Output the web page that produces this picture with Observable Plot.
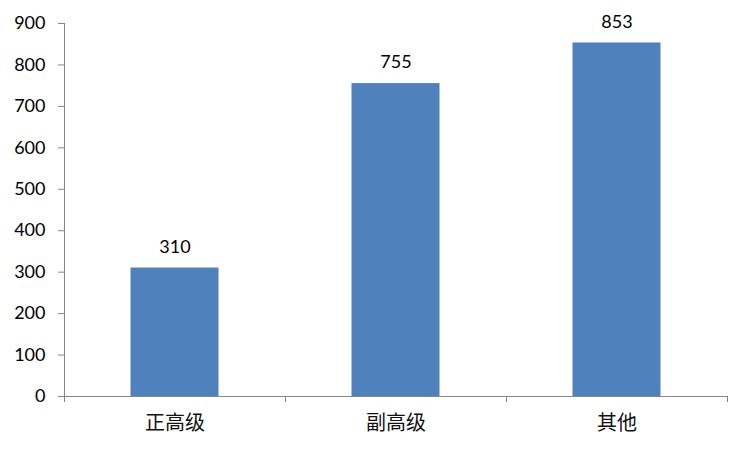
<!DOCTYPE html>
<html><head><meta charset="utf-8">
<script src="https://cdn.jsdelivr.net/npm/d3@7"></script>
<script src="https://cdn.jsdelivr.net/npm/@observablehq/plot@0.6"></script>
<style>body{margin:0;background:#fff}</style>
</head><body><div id="chart"></div>
<script>
const categories = ["正高级", "副高级", "其他"];
const values = [310, 755, 853];
const yTicks = [0, 100, 200, 300, 400, 500, 600, 700, 800, 900];

const data = categories.map((c, i) => ({cat: c, i, value: values[i]}));
const numFont = "Lato, 'Liberation Sans', sans-serif";
const cjkFont = "'Noto Sans CJK SC', sans-serif";
const axisColor = "#868686";

const chart = Plot.plot({
  width: 750, height: 450,
  marginLeft: 64, marginRight: 23, marginTop: 23, marginBottom: 54,
  style: {fontFamily: numFont, fontSize: "18px", color: "#000", background: "#fff"},
  x: {type: "linear", domain: [0, categories.length], axis: null},
  y: {type: "linear", domain: [0, 900], axis: null},
  marks: [
    Plot.rectY(data, {x1: d => d.i, x2: d => d.i + 1, y: "value", fill: "#4F81BD", insetLeft: 66.5, insetRight: 66.5}),
    Plot.ruleX([0], {y1: 0, y2: 900, stroke: axisColor, strokeWidth: 1}),
    Plot.ruleY([0], {stroke: axisColor, strokeWidth: 1}),
    Plot.axisY({ticks: yTicks, tickSize: 6, tickPadding: 13, stroke: axisColor, fill: "#000", fontSize: 18, fontFamily: numFont, fontWeight: 400, label: null}),
    Plot.axisX({ticks: d3.range(categories.length + 1), tickSize: 6, tickFormat: () => "", stroke: axisColor, label: null}),
    Plot.text(data, {x: d => d.i + 0.5, y: 0, text: "cat", dy: 27, fontSize: 20, fontFamily: cjkFont, fill: "#111"}),
    Plot.text(data, {x: d => d.i + 0.5, y: "value", text: d => String(d.value), dy: -21, fontSize: 18, fontFamily: numFont, fill: "#000"})
  ]
});
document.getElementById("chart").appendChild(chart);
</script></body></html>
